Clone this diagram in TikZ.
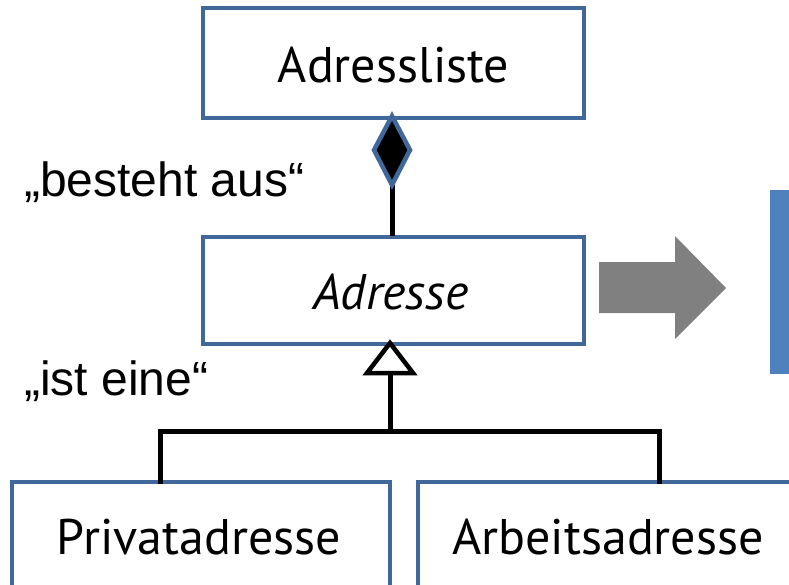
\documentclass[tikz,border=0pt]{standalone}
\usepackage{fontspec}
\setmainfont{PT Sans}
\newfontfamily\labelfont{Liberation Sans}
\usetikzlibrary{shapes.geometric}
\definecolor{boxblue}{HTML}{41689A}
\definecolor{fillblue}{HTML}{4F81BD}
\definecolor{arrowgray}{HTML}{808080}
\begin{document}
\begin{tikzpicture}[x=1pt,y=-1pt,
  umlbox/.style={draw=boxblue,line width=4.5pt,fill=white},
  conn/.style={draw=black,line width=5pt},
  boxtext/.style={font=\fontsize{50}{56}\selectfont,inner sep=0pt},
  lbl/.style={font=\labelfont\fontsize{48}{54}\selectfont,inner sep=0pt,anchor=west}]
\useasboundingbox (0,0) rectangle (789,584);
\clip (0,0) rectangle (789,584);
% boxes
\draw[umlbox] (203,8) rectangle (584,118);
\node[boxtext] (liste) at (393.5,65) {Adressliste};
\draw[umlbox] (203,237) rectangle (584,344);
\node[boxtext,font=\fontsize{50}{56}\selectfont\itshape] (adr) at (391,292) {Adresse};
\draw[umlbox] (12,482) rectangle (390,620);
\node[boxtext] (priv) at (199,537) {Privatadresse};
\draw[umlbox] (418,482) rectangle (800,620);
\node[boxtext] (arb) at (608,537) {Arbeitsadresse};
% coordinates
\coordinate (dtop) at (392,116);
\coordinate (dbot) at (392,185);
\coordinate (atop) at (392,236);
\coordinate (tapex) at (390,343);
\coordinate (tbase) at (390,373);
\coordinate (hmid) at (390,431);
\coordinate (hl) at (160,431);
\coordinate (hr) at (659,431);
\coordinate (pl) at (160,481);
\coordinate (pr) at (659,481);
% composition
\draw[conn] (dbot) -- (atop);
\draw[draw=boxblue,line width=4.5pt,fill=black,line join=miter]
  (dtop) -- (410,150) -- (dbot) -- (374,150) -- cycle;
% generalization
\draw[conn] (tbase) -- (hmid);
\draw[conn,line cap=rect] (pl) -- (hl) -- (hr) -- (pr);
\draw[draw=black,line width=4.5pt,fill=white,line join=miter]
  (tapex) -- (413,373) -- (367,373) -- cycle;
% labels
\node[lbl] (l1) at (24,182) {„besteht aus“};
\node[lbl] (l2) at (24,381) {„ist eine“};
% gray arrow
\fill[arrowgray] (599,262) -- (675,262) -- (675,236) -- (726,288) -- (675,339) -- (675,313) -- (599,313) -- cycle;
% blue block
\fill[fillblue] (770,190) rectangle (800,374);
\end{tikzpicture}
\end{document}
